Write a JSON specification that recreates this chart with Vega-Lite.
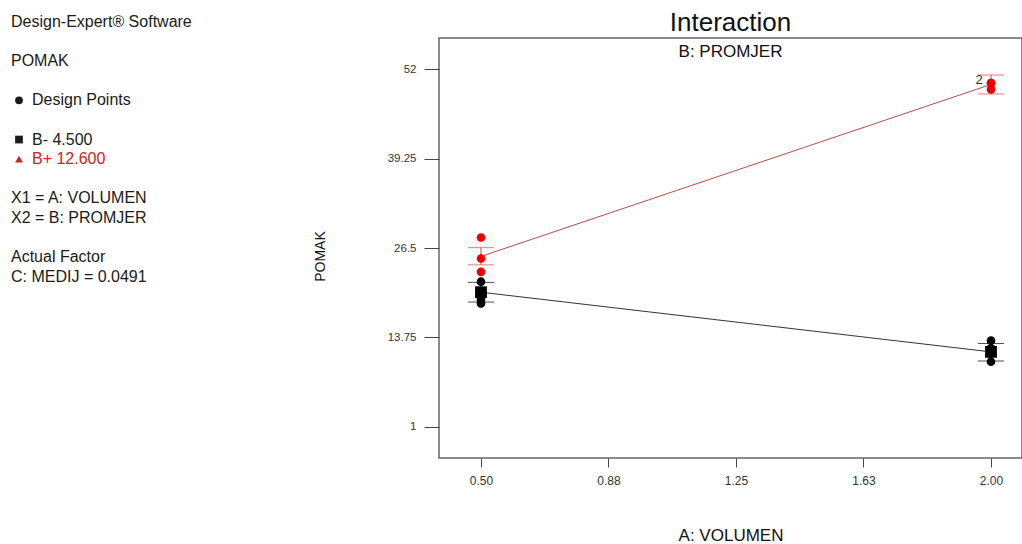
{
  "$schema": "https://vega.github.io/schema/vega-lite/v6.json",
  "background": "white",
  "autosize": {"type": "none"},
  "width": 583,
  "height": 420,
  "padding": {"left": 439, "top": 38, "right": 0, "bottom": 86},
  "config": {"view": {"stroke": "#666666", "strokeWidth": 1.5}, "font": "Liberation Sans"},
  "title": {"text": "Interaction", "subtitle": "B: PROMJER", "fontSize": 26, "font": "Liberation Sans", "fontWeight": "normal", "color": "#111111", "subtitleFont": "Liberation Sans", "subtitleFontSize": 17, "subtitleColor": "#111111", "subtitlePadding": 8, "offset": -46, "anchor": "middle"},
  "datasets": {
    "info": [
      {"row": 0, "indent": 0, "tone": "plain", "label": "Design-Expert® Software"},
      {"row": 2, "indent": 0, "tone": "plain", "label": "POMAK"},
      {"row": 4, "indent": 1, "tone": "plain", "label": "Design Points"},
      {"row": 6, "indent": 1, "tone": "plain", "label": "B- 4.500"},
      {"row": 7, "indent": 1, "tone": "red", "label": "B+ 12.600"},
      {"row": 9, "indent": 0, "tone": "plain", "label": "X1 = A: VOLUMEN"},
      {"row": 10, "indent": 0, "tone": "plain", "label": "X2 = B: PROMJER"},
      {"row": 12, "indent": 0, "tone": "plain", "label": "Actual Factor"},
      {"row": 13, "indent": 0, "tone": "plain", "label": "C: MEDIJ = 0.0491"}
    ],
    "symbols": [
      {"row": 4, "indent": 0.38, "tone": "plain", "shape": "circle"},
      {"row": 6, "indent": 0.38, "tone": "plain", "shape": "square"},
      {"row": 7, "indent": 0.38, "tone": "red", "shape": "triangle-up"}
    ],
    "points": [
      {"A": 0.5, "B": "B-", "y": 21.7},
      {"A": 0.5, "B": "B-", "y": 20.0},
      {"A": 0.5, "B": "B-", "y": 19.1},
      {"A": 0.5, "B": "B-", "y": 18.6},
      {"A": 2.0, "B": "B-", "y": 13.3},
      {"A": 2.0, "B": "B-", "y": 12.2},
      {"A": 2.0, "B": "B-", "y": 10.3},
      {"A": 0.5, "B": "B+", "y": 28.0},
      {"A": 0.5, "B": "B+", "y": 25.0},
      {"A": 0.5, "B": "B+", "y": 23.1},
      {"A": 2.0, "B": "B+", "y": 50.0},
      {"A": 2.0, "B": "B+", "y": 50.0},
      {"A": 2.0, "B": "B+", "y": 49.1}
    ],
    "means": [
      {"A": 0.5, "B": "B-", "y": 20.2, "lo": 18.8, "hi": 21.6},
      {"A": 2.0, "B": "B-", "y": 11.7, "lo": 10.4, "hi": 12.9},
      {"A": 0.5, "B": "B+", "y": 25.3, "lo": 24.1, "hi": 26.55},
      {"A": 2.0, "B": "B+", "y": 49.8, "lo": 48.45, "hi": 51.15}
    ]
  },
  "resolve": {"scale": {"x": "independent", "y": "independent", "color": "independent", "shape": "independent"}, "axis": {"x": "independent", "y": "independent"}},
  "layer": [
    {
      "resolve": {"scale": {"color": "independent", "shape": "independent", "size": "independent"}},
      "layer": [
        {
          "data": {"name": "means"},
          "mark": {"type": "rule", "strokeWidth": 1},
          "encoding": {
            "x": {"field": "A", "type": "quantitative", "title": "A: VOLUMEN", "scale": {"domain": [0.3765, 2.0912], "nice": false, "zero": false},
              "axis": {"values": [0.5, 0.875, 1.25, 1.625, 2.0], "format": ".2f", "grid": false, "domain": false, "tickColor": "#444444", "tickSize": 9, "labelFontSize": 12, "labelPadding": 8, "labelColor": "#333333", "labelFont": "Liberation Sans", "title": "A: VOLUMEN", "titleFont": "Liberation Sans", "titleFontSize": 17, "titleFontWeight": "normal", "titleColor": "#111111", "titlePadding": 41}},
            "y": {"field": "lo", "type": "quantitative", "title": "POMAK", "scale": {"domain": [-3.42, 56.42], "nice": false, "zero": false},
              "axis": {"values": [1, 13.75, 26.5, 39.25, 52], "format": ".4~g", "grid": false, "domain": false, "tickColor": "#444444", "tickSize": 15, "labelFontSize": 11.5, "labelPadding": 8, "labelColor": "#333333", "labelFont": "Liberation Sans", "title": "POMAK", "titleFont": "Liberation Sans", "titleFontSize": 14, "titleFontWeight": "normal", "titleColor": "#111111", "titlePadding": 60, "titleY": 218}},
            "y2": {"field": "hi"},
            "color": {"field": "B", "type": "nominal", "scale": {"domain": ["B-", "B+"], "range": ["#000000", "#c84848"]}, "legend": null}
          }
        },
        {
          "data": {"name": "means"},
          "mark": {"type": "tick", "orient": "horizontal", "size": 26, "thickness": 1},
          "encoding": {
            "x": {"field": "A", "type": "quantitative", "title": "A: VOLUMEN"},
            "y": {"field": "lo", "type": "quantitative", "title": "POMAK"},
            "color": {"field": "B", "type": "nominal", "scale": {"domain": ["B-", "B+"], "range": ["#000000", "#c84848"]}, "legend": null}
          }
        },
        {
          "data": {"name": "means"},
          "mark": {"type": "tick", "orient": "horizontal", "size": 26, "thickness": 1},
          "encoding": {
            "x": {"field": "A", "type": "quantitative", "title": "A: VOLUMEN"},
            "y": {"field": "hi", "type": "quantitative", "title": "POMAK"},
            "color": {"field": "B", "type": "nominal", "scale": {"domain": ["B-", "B+"], "range": ["#000000", "#c84848"]}, "legend": null}
          }
        },
        {
          "data": {"name": "means"},
          "mark": {"type": "line", "strokeWidth": 1},
          "encoding": {
            "x": {"field": "A", "type": "quantitative", "title": "A: VOLUMEN"},
            "y": {"field": "y", "type": "quantitative", "title": "POMAK"},
            "color": {"field": "B", "type": "nominal", "scale": {"domain": ["B-", "B+"], "range": ["#333333", "#c04848"]}, "legend": null}
          }
        },
        {
          "data": {"name": "means"},
          "mark": {"type": "point", "filled": true, "opacity": 1},
          "encoding": {
            "x": {"field": "A", "type": "quantitative", "title": "A: VOLUMEN"},
            "y": {"field": "y", "type": "quantitative", "title": "POMAK"},
            "shape": {"field": "B", "type": "nominal", "scale": {"domain": ["B-", "B+"], "range": ["square", "triangle-up"]}, "legend": null},
            "size": {"field": "B", "type": "nominal", "scale": {"domain": ["B-", "B+"], "range": [140, 45]}, "legend": null},
            "color": {"field": "B", "type": "nominal", "scale": {"domain": ["B-", "B+"], "range": ["#000000", "#ee0000"]}, "legend": null}
          }
        },
        {
          "data": {"name": "points"},
          "mark": {"type": "point", "shape": "circle", "filled": true, "opacity": 1, "size": 75},
          "encoding": {
            "x": {"field": "A", "type": "quantitative", "title": "A: VOLUMEN"},
            "y": {"field": "y", "type": "quantitative", "title": "POMAK"},
            "color": {"field": "B", "type": "nominal", "scale": {"domain": ["B-", "B+"], "range": ["#000000", "#ee0000"]}, "legend": null}
          }
        },
        {
          "data": {"values": [{"A": 2.0, "y": 50.0, "label": "2"}]},
          "mark": {"type": "text", "fontSize": 13, "font": "Liberation Sans", "color": "#333333", "dx": -12, "dy": -3, "align": "center", "baseline": "middle"},
          "encoding": {
            "x": {"field": "A", "type": "quantitative", "title": "A: VOLUMEN"},
            "y": {"field": "y", "type": "quantitative", "title": "POMAK"},
            "text": {"field": "label"}
          }
        }
      ]
    },
    {
      "layer": [
        {
          "data": {"name": "info"},
          "mark": {"type": "text", "align": "left", "baseline": "middle", "fontSize": 16, "font": "Liberation Sans"},
          "encoding": {
            "x": {"field": "indent", "type": "quantitative", "scale": {"domain": [20.381, 48.143], "nice": false, "zero": false}, "axis": null},
            "y": {"field": "row", "type": "quantitative", "scale": {"domain": [0.83, 22.215], "nice": false, "zero": false, "reverse": true}, "axis": null},
            "text": {"field": "label"},
            "color": {"field": "tone", "type": "nominal", "scale": {"domain": ["plain", "red"], "range": ["#1a1a1a", "#d42020"]}, "legend": null}
          }
        },
        {
          "data": {"name": "symbols"},
          "mark": {"type": "point", "filled": true, "opacity": 1, "size": 60},
          "encoding": {
            "x": {"field": "indent", "type": "quantitative", "axis": null},
            "y": {"field": "row", "type": "quantitative", "axis": null},
            "shape": {"field": "shape", "type": "nominal", "scale": {"domain": ["circle", "square", "triangle-up"], "range": ["circle", "square", "triangle-up"]}, "legend": null},
            "color": {"field": "tone", "type": "nominal", "legend": null}
          }
        }
      ]
    }
  ]
}
